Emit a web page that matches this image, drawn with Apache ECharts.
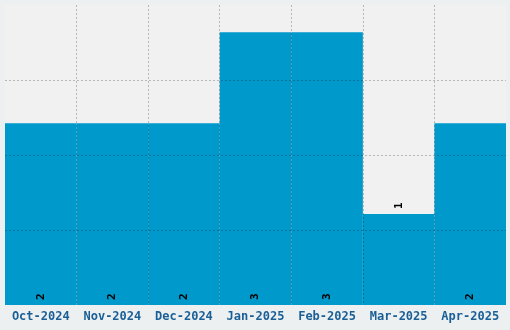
<!DOCTYPE html>
<html><head><meta charset="utf-8">
<script src="https://cdn.jsdelivr.net/npm/echarts@6/dist/echarts.min.js"></script>
<style>html,body{margin:0;padding:0;background:#edf0f1;}#c{width:510px;height:330px;}</style>
</head><body><div id="c"></div>
<script>
const categories = ['Oct-2024','Nov-2024','Dec-2024','Jan-2025','Feb-2025','Mar-2025','Apr-2025'];
const values = [2, 2, 2, 3, 3, 1, 2];
const labelPositions = ['insideBottom','insideBottom','insideBottom','insideBottom','insideBottom','top','insideBottom'];

const chart = echarts.init(document.getElementById('c'), null, {renderer:'canvas'});
chart.setOption({
  animation: false,
  backgroundColor: '#edf0f1',
  grid: {left: 5, right: 4, top: 5, bottom: 25, show: true, backgroundColor: '#f1f1f1', borderWidth: 0, containLabel: false},
  xAxis: {
    type: 'category', data: categories, z: 5,
    axisLine: {show: false}, axisTick: {show: false},
    splitLine: {show: true, showMinLine: false, showMaxLine: false, lineStyle: {color: 'rgba(0,0,0,0.24)', type: [2,2], width: 1}},
    axisLabel: {color: '#1a5f96', fontFamily: 'DejaVu Sans Mono', fontWeight: 'bold', fontSize: 12, margin: 6, interval: 0}
  },
  yAxis: {
    type: 'value', min: 0, max: 3.3, interval: 0.825, z: 5,
    axisLine: {show: false}, axisTick: {show: false}, axisLabel: {show: false},
    splitLine: {show: true, showMinLine: false, showMaxLine: false, lineStyle: {color: 'rgba(0,0,0,0.24)', type: [2,2], width: 1}}
  },
  series: [{
    type: 'bar', barCategoryGap: 0, z: 2,
    itemStyle: {color: '#0099cc'},
    data: values.map((v, i) => ({value: v, label: {position: labelPositions[i]}})),
    label: {show: true, rotate: 90, color: '#000', fontFamily: 'DejaVu Sans Mono', fontWeight: 'bold', fontSize: 11, distance: 5, align: 'left', verticalAlign: 'middle'}
  }]
});
</script></body></html>
